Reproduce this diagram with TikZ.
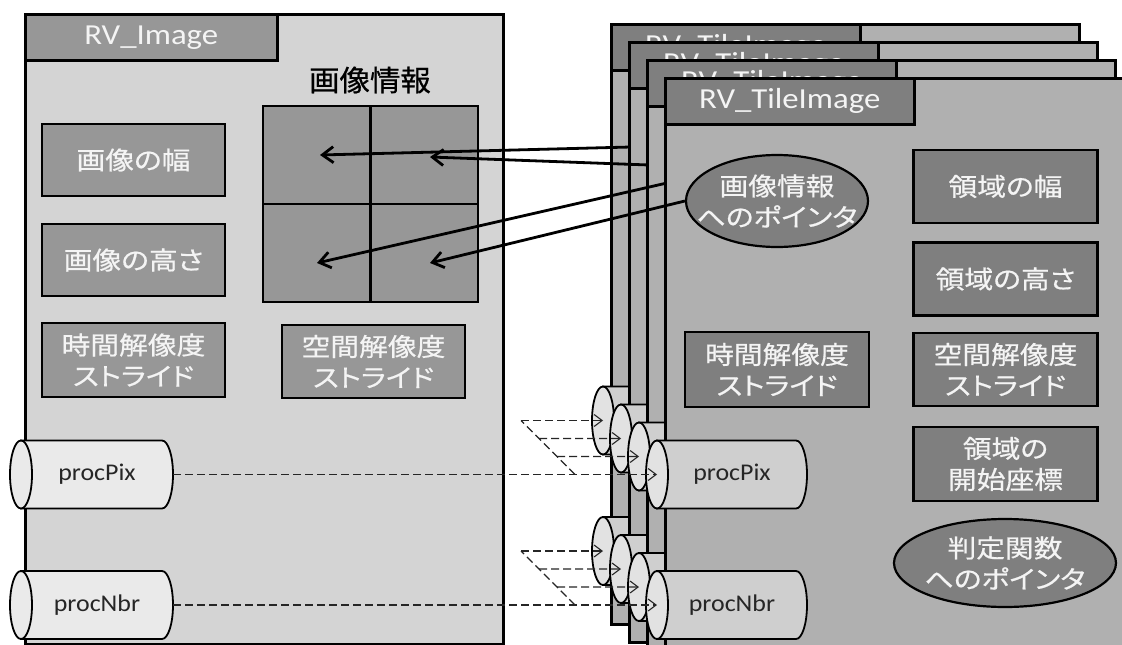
\documentclass[tikz,border=0pt]{standalone}
\usepackage{fontspec}
\setmainfont{Carlito}
\newfontfamily\tabfont{Carlito}[FakeStretch=1.13]
\newfontfamily\cylfont{Carlito}[FakeStretch=1.08]
\newfontfamily\jpfont{Noto Sans CJK JP}[FakeStretch=1.15, FakeBold=0.6, RawFeature=+palt]
\newfontfamily\jptitle{Noto Sans CJK JP}[FakeStretch=1.05, FakeBold=0.6, RawFeature=+palt]
\usetikzlibrary{shapes.geometric,arrows.meta,calc}

\definecolor{lpanelfill}{HTML}{D4D4D4}
\definecolor{lboxfill}{HTML}{979797}
\definecolor{rpanelfill}{HTML}{B0B0B0}
\definecolor{rboxfill}{HTML}{7F7F7F}
\definecolor{lcylfill}{HTML}{EAEAEA}
\definecolor{rcylbody}{HTML}{CFCFCF}
\definecolor{rcylend}{HTML}{E2E2E2}
\definecolor{labelwhite}{HTML}{F4F4F4}
\definecolor{inktext}{HTML}{262626}

\tikzset{
  frame/.style={draw=black, line width=2.5pt},
  panelbase/.style={frame, rectangle, inner sep=0pt, anchor=north west},
  lpanel/.style={panelbase, fill=lpanelfill, minimum width=478pt, minimum height=630pt},
  rpanel/.style={panelbase, fill=rpanelfill, minimum width=468pt, minimum height=600pt},
  tabbox/.style={panelbase, minimum height=46pt, text=labelwhite,
    font=\tabfont\fontsize{29pt}{34pt}\selectfont},
  ltab/.style={tabbox, fill=lboxfill, minimum width=252pt},
  rtab/.style={tabbox, fill=rboxfill, minimum width=249pt},
  jptext/.style={text=labelwhite, align=center, inner sep=0pt,
    font=\jpfont\fontsize{25pt}{31pt}\selectfont},
  fieldbox/.style={frame, rectangle, jptext, minimum width=184pt, minimum height=73pt},
  lbox/.style={fieldbox, fill=lboxfill},
  rbox/.style={fieldbox, fill=rboxfill},
  ptrshape/.style={frame, line width=2.2pt, ellipse, inner sep=0pt, fill=rboxfill},
  cell/.style={frame, rectangle, fill=lboxfill, inner sep=0pt,
    minimum width=107.5pt, minimum height=98pt},
  infotitle/.style={text=black, inner sep=0pt,
    font=\jptitle\fontsize{29pt}{34pt}\selectfont},
  cyltext/.style={text=inktext, inner sep=0pt,
    font=\cylfont\fontsize{24pt}{28pt}\selectfont},
  ptrarrow/.style={draw=black, line width=2.8pt,
    -{Straight Barb[length=11pt,width=16pt]}},
  dashline/.style={draw=black!85, line width=1.1pt, dash pattern=on 8pt off 4pt},
  dasharrow/.style={dashline, -{Straight Barb[length=8pt,width=12pt]}},
}

% a lying cylinder: name, centre of the left face, right end, fills, label
\newcommand\drum[7]{%
  \path[frame, line width=1.8pt, fill=#5] (#2,#3-34) -- (#4-11,#3-34)
    arc[start angle=90, end angle=-90, x radius=11pt, y radius=34pt]
    -- (#2,#3+34) -- cycle;
  \path[frame, line width=1.8pt, fill=#6] (#2,#3) ellipse [x radius=11pt, y radius=34pt];
  \coordinate (#1-w) at (#2,#3);
  \coordinate (#1-e) at (#4,#3);
  \node[cyltext] (#1) at ({(#2+#4)/2},#3) {#7};
}

% one RV_TileImage panel: index, top-left corner
\newcommand\tilepanel[3]{%
  \begin{scope}[shift={(#2,#3)}]
    \node[rpanel] (tile#1) at (0,0) {};
    \node[rtab] (tiletab#1) at (0,0) {RV\_TileImage};
    \node[ptrshape, minimum width=182pt, minimum height=92pt] (ptr#1) at (113,124) {};
    \node[jptext] (ptrlabel#1) at (ptr#1) {画像情報\\へのポインタ};
    \node[rbox, minimum height=75pt] (tstride#1) at (113,292.5) {時間解像度\\ストライド};
    \node[rbox] (rw#1) at (341.5,109.5) {領域の幅};
    \node[rbox] (rh#1) at (341.5,202) {領域の高さ};
    \node[rbox] (sstride#1) at (341.5,292.5) {空間解像度\\ストライド};
    \node[rbox, minimum height=74pt] (origin#1) at (341.5,387) {領域の\\開始座標};
    \node[ptrshape, minimum width=222pt, minimum height=88pt] (judge#1) at (341,486) {};
    \node[jptext] (judgelabel#1) at (judge#1) {判定関数\\へのポインタ};
    \drum{pix#1}{-7}{397.5}{143}{rcylbody}{rcylend}{procPix}
    \drum{nbr#1}{-7}{528}{143}{rcylbody}{rcylend}{procNbr}
  \end{scope}
}

\begin{document}
\begin{tikzpicture}[x=1pt, y=-1pt]
  \useasboundingbox (0,0) rectangle (1122,645);
  \clip (0,0) rectangle (1122,645);
  \fill[white] (0,0) rectangle (1122,645);

  % RV_Image
  \node[lpanel] (imgpanel) at (24,13) {};
  \node[ltab] (imgtab) at (24,13) {RV\_Image};
  \node[infotitle] (infotitle) at (370,80) {画像情報};
  \node[cell] (cellA) at (316.75,155) {};
  \node[cell] (cellB) at (424.25,155) {};
  \node[cell] (cellC) at (316.75,253) {};
  \node[cell] (cellD) at (424.25,253) {};
  \coordinate (tip1) at (320,155);
  \coordinate (tip2) at (430,157);
  \coordinate (tip3) at (317,263);
  \coordinate (tip4) at (430,263);
  \node[lbox, minimum width=183pt, minimum height=72pt] (imgw) at (133.5,160) {画像の幅};
  \node[lbox, minimum width=183pt, minimum height=72pt] (imgh) at (133.5,260) {画像の高さ};
  \node[lbox, minimum width=183pt, minimum height=74pt] (imgt) at (133.5,360) {時間解像度\\ストライド};
  \node[lbox, minimum width=183pt, minimum height=73pt] (imgs) at (373.5,361.5) {空間解像度\\ストライド};
  \drum{pixL}{21}{474.5}{173}{lcylfill}{lcylfill}{procPix}
  \drum{nbrL}{21}{605}{173}{lcylfill}{lcylfill}{procNbr}

  % fan-out points of the dashed links
  \coordinate (pixfoot) at (575,474.5);
  \coordinate (pixtop) at (521,420.5);
  \coordinate (nbrfoot) at (575,605);
  \coordinate (nbrtop) at (521,551);
  \draw[dashline] (pixfoot) -- (pixtop);
  \draw[dashline] (nbrfoot) -- (nbrtop);

  % stacked RV_TileImage panels, back to front
  \tilepanel{1}{610}{23}
  \draw[ptrarrow] (ptr1.west) -- (tip1);
  \draw[dasharrow] (pixtop) -- (pix1-w);
  \draw[dasharrow] (nbrtop) -- (nbr1-w);

  \tilepanel{2}{628}{41}
  \draw[ptrarrow] (ptr2.west) -- (tip2);
  \draw[dasharrow] ($(pixfoot)!0.6667!(pixtop)$) -- (pix2-w);
  \draw[dasharrow] ($(nbrfoot)!0.6667!(nbrtop)$) -- (nbr2-w);

  \tilepanel{3}{646}{59}
  \draw[ptrarrow] (ptr3.west) -- (tip3);
  \draw[dasharrow] ($(pixfoot)!0.3333!(pixtop)$) -- (pix3-w);
  \draw[dasharrow] ($(nbrfoot)!0.3333!(nbrtop)$) -- (nbr3-w);

  \tilepanel{4}{664}{77}
  \draw[ptrarrow] (ptr4.west) -- (tip4);
  \draw[dasharrow] (pixL-e) -- (pix4-w);
  \draw[dasharrow] (nbrL-e) -- (nbr4-w);
\end{tikzpicture}
\end{document}
